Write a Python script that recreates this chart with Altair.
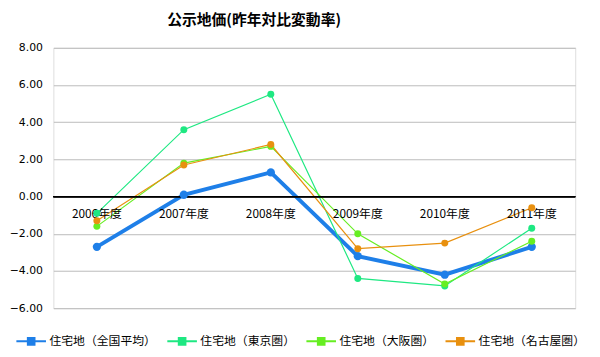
import altair as alt
import pandas as pd

years = ["2006年度", "2007年度", "2008年度", "2009年度", "2010年度", "2011年度"]
series_names = ["住宅地（全国平均）", "住宅地（東京圏）", "住宅地（大阪圏）", "住宅地（名古屋圏）"]
zenkoku = [-2.7, 0.1, 1.3, -3.2, -4.2, -2.7]
tokyo = [-0.9, 3.6, 5.5, -4.4, -4.8, -1.7]
osaka = [-1.6, 1.8, 2.7, -2.0, -4.7, -2.4]
nagoya = [-1.3, 1.7, 2.8, -2.8, -2.5, -0.6]
colors = ["#1e7fe8", "#1ee882", "#66ee22", "#e8900f"]
y_ticks = [-6, -4, -2, 0, 2, 4, 6, 8]

rows = []
for name, vals in zip(series_names, [zenkoku, tokyo, osaka, nagoya]):
    for y, v in zip(years, vals):
        rows.append({"year": y, "series": name, "value": v})
df = pd.DataFrame(rows)
lab = pd.DataFrame({"year": years})

font = "Noto Sans CJK JP"

x_scale = alt.Scale(domain=years, paddingInner=0, paddingOuter=0.5)
x_axis = alt.Axis(labels=False, ticks=False, domain=False, grid=False)
y_scale = alt.Scale(domain=[-6, 8], nice=False, zero=False)
y_axis = alt.Axis(values=y_ticks, format=".2f", ticks=False, tickCount=8,
                  domain=False, gridColor="#bbbbbb", labelFontSize=11,
                  labelColor="#000000", labelPadding=11, labelFont="DejaVu Sans",
                  labelOverlap=False, labelFlush=False)

x = alt.X("year:N", sort=years, title=None, scale=x_scale, axis=x_axis)
y = alt.Y("value:Q", title=None, scale=y_scale, axis=y_axis)
y0 = alt.Y(datum=0, type="quantitative", title=None, scale=y_scale, axis=y_axis)

color = alt.Color("series:N", sort=series_names,
                  scale=alt.Scale(domain=series_names, range=colors),
                  legend=alt.Legend(title=None, orient="none", direction="horizontal",
                                    legendX=-31, legendY=289, columns=4, columnPadding=6,
                                    labelFont=font, labelFontSize=12, labelColor="#000000",
                                    symbolType="M-2,0H2M-0.45,-0.45H0.45V0.45H-0.45Z",
                                    symbolSize=225, labelOffset=10, symbolStrokeWidth=2))
is_main = alt.datum.series == series_names[0]

base = alt.Chart(df)
zero = alt.Chart(lab).mark_rule(color="#000000", strokeWidth=1.2).encode(y=y0)
lines = base.mark_line().encode(
    x=x, y=y, color=color,
    strokeWidth=alt.condition(is_main, alt.value(4), alt.value(1.2)))
pts = base.mark_point(filled=True, opacity=1, shape="circle").encode(
    x=x, y=y,
    color=alt.Color("series:N", sort=series_names,
                    scale=alt.Scale(domain=series_names, range=colors), legend=None),
    size=alt.condition(is_main, alt.value(70), alt.value(50)))
labels = alt.Chart(lab).mark_text(font=font, fontSize=12, color="#000000", dy=18).encode(
    x=x, y=y0, text="year:N")

chart = alt.layer(lines, zero, labels, pts).properties(
    width=529, height=264,
    title=alt.TitleParams("公示地価(昨年対比変動率)", font=font, fontSize=15, fontWeight="bold",
                          anchor="middle", dx=-61, offset=14, color="#000000"),
    autosize=alt.AutoSizeParams(type="none"),
    padding={"left": 46, "top": 38, "right": 17, "bottom": 39},
).configure_view(stroke="#888888", strokeWidth=1.2).configure(background="white")

chart.save("out.html", embed_options={"renderer": "svg", "actions": False})
